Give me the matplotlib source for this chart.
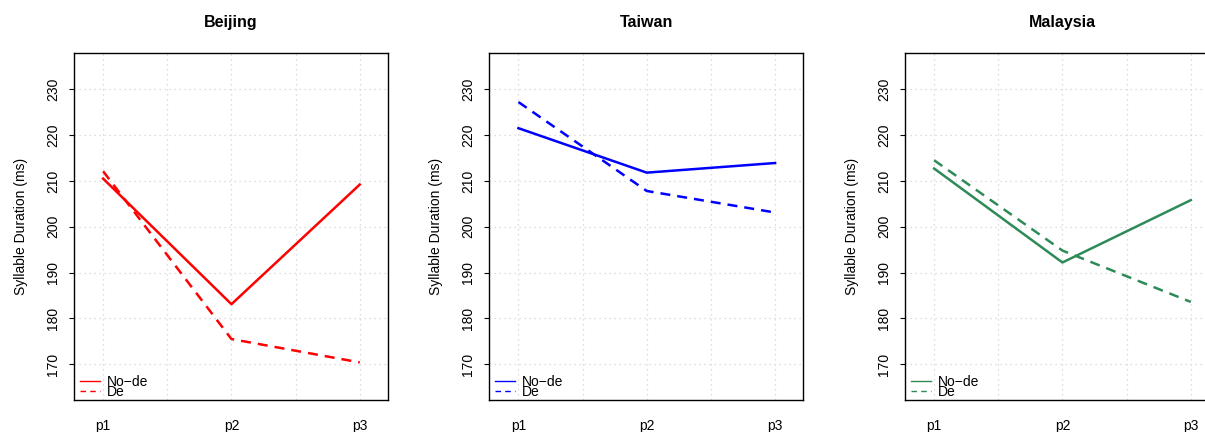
import matplotlib
matplotlib.use("Agg")
import matplotlib.pyplot as plt

plt.rcParams['font.family'] = ['Liberation Sans', 'DejaVu Sans']

# positions p1..p3
positions = [1, 2, 3]
pos_labels = ['p1', 'p2', 'p3']

regions = ['Beijing', 'Taiwan', 'Malaysia']
colors = ['#FF0000', '#0000FF', '#2E8B57']

# syllable duration (ms)
beijing_node = [210.5, 183.1, 209.2]
beijing_de = [212.1, 175.5, 170.4]
taiwan_node = [221.5, 211.8, 213.9]
taiwan_de = [227.2, 207.8, 203.1]
malaysia_node = [212.7, 192.2, 205.8]
malaysia_de = [214.5, 194.8, 183.6]

node_vals = [beijing_node, taiwan_node, malaysia_node]
de_vals = [beijing_de, taiwan_de, malaysia_de]

W, H = 1205, 432
fig = plt.figure(figsize=(W / 100, H / 100), dpi=100)

lefts = [74, 489.3, 905]
for i in range(3):
    ax = fig.add_axes([lefts[i] / W, 1 - 400 / H, 314 / W, 347 / H])
    ax.plot(positions, node_vals[i], color=colors[i], lw=1.8)
    ax.plot(positions, de_vals[i], color=colors[i], lw=1.8, dashes=(4, 2.8))
    # thinner legend keys, like the reference
    ax.plot([], [], color=colors[i], lw=1.0, label='No\u2212de')
    ax.plot([], [], color=colors[i], lw=1.0, dashes=(4, 3), label='De')

    ax.set_xlim(0.773, 3.22)
    ax.set_ylim(162.2, 237.9)
    ax.set_yticks(range(170, 231, 10))
    ax.set_xticks([1, 1.5, 2, 2.5, 3])
    ax.set_xticklabels(['p1', '', 'p2', '', 'p3'], fontsize=10)
    ax.tick_params(axis='x', length=0, pad=14)
    ax.tick_params(axis='y', length=3.6, pad=6.5, labelsize=10)
    for lab in ax.get_yticklabels():
        lab.set_rotation(90)
        lab.set_va('center')
    ax.grid(True, color='#D3D3D3', linestyle=(0, (1, 3)), lw=0.9)
    for s in ax.spines.values():
        s.set_linewidth(1.0)
    ax.set_ylabel('Syllable Duration (ms)', fontsize=10, labelpad=13)
    ax.set_title(regions[i], fontsize=11.5, fontweight='bold', pad=19)
    ax.legend(loc='lower left', frameon=False, fontsize=10, handlelength=1.4,
              labelspacing=-0.28, handletextpad=0.5, borderaxespad=0.0,
              borderpad=0.1, bbox_to_anchor=(0.015, 0.0))

fig.savefig('out.png', dpi=100)
